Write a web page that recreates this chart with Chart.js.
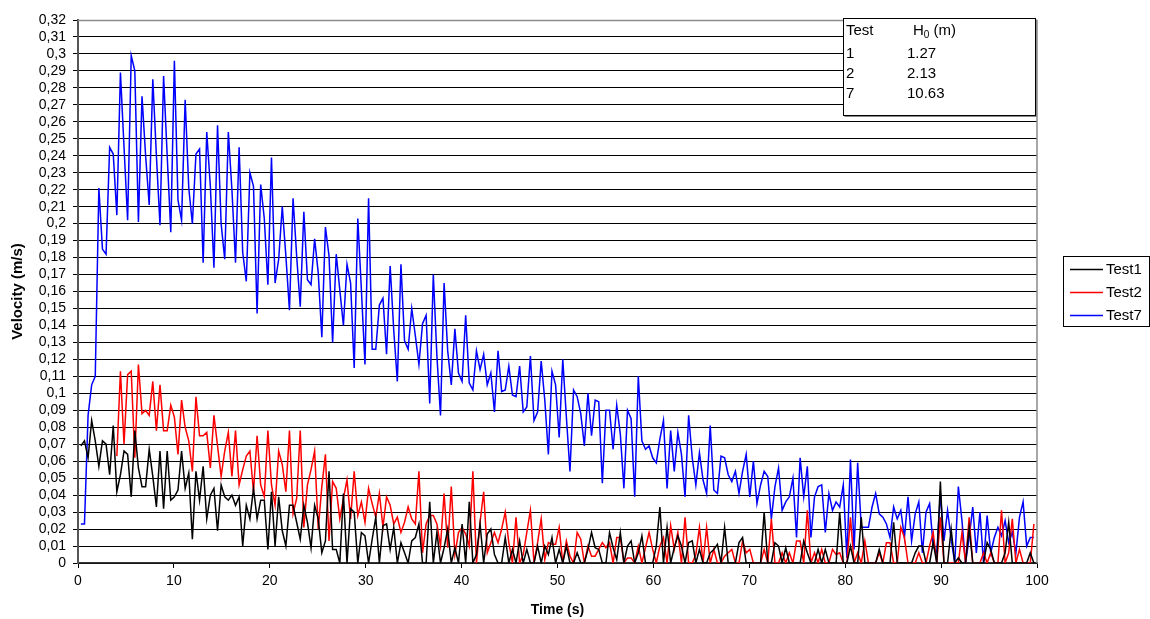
<!DOCTYPE html>
<html>
<head>
<meta charset="utf-8">
<script src="https://cdn.jsdelivr.net/npm/chart.js@4.4.1/dist/chart.umd.min.js"></script>
<style>
html,body{margin:0;padding:0;background:#fff;}
#wrap{width:1150px;height:619px;position:relative;}
</style>
</head>
<body>
<div id="wrap"><canvas id="c" width="1150" height="619"></canvas></div>
<script>
// ---- sampling (one sample about every 0.375 s) ----
const firstSampleTime = 0.3;
const sampleInterval = 0.375;

// ---- series values (m/s) ----
const test1 = [
0.069,0.072,0.062,0.084,0.072,0.057,0.072,0.070,0.052,0.081,0.042,0.052,0.066,0.064,0.039,0.078,0.056,0.045,0.045,0.067,0.051,0.033,0.066,0.032,0.066,0.037,0.039,0.043,0.066,0.044,0.053,0.014,0.054,0.037,
0.057,0.026,0.040,0.044,0.019,0.046,0.039,0.037,0.040,0.034,0.039,0.010,0.034,0.026,0.044,0.026,0.037,0.037,0.008,0.042,0.010,0.039,0.019,0.010,0.034,0.034,0.024,0.014,0.034,0.024,0.009,0.034,0.026,
0.006,0.013,0.054,0.008,0.008,0,0.041,0,0.032,0.030,0,0.018,0.016,0,0.014,0.027,0,0.022,0.023,0.008,0.021,0,0.012,0.006,0,0.013,0.015,0.023,0,0,0.036,0,0.018,0,
0.009,0.020,0,0.009,0,0.023,0,0.036,0,0.005,0.023,0,0.017,0.020,0.005,0,0,0.015,0,0.008,0,0.013,0,0.008,0,0,0.010,0,0.010,0.005,0.015,0,0.008,
0,0.010,0,0,0.006,0,0,0.008,0.018,0.009,0.008,0,0,0.018,0.009,0.002,0.018,0,0.010,0.013,0,0.006,0.016,0,0,0,0.010,0.033,0,0.021,0,0.009,0.016,
0.010,0,0.012,0.013,0,0.008,0,0,0.006,0.008,0.011,0,0.021,0,0,0,0.012,0.015,0,0,0,0,0,0.030,0,0,0.012,0.010,0,0.009,0,0,0,
0,0.013,0.006,0,0,0.008,0,0.008,0,0,0,0.030,0,0,0.010,0,0,0.027,0,0,0,0,0.008,0,0,0,0.024,0,0,0,0,0,0.006,0.010,
0.010,0,0,0.012,0,0.048,0,0,0.020,0,0.003,0,0,0.021,0,0,0,0,0.012,0.008,0,0,0,0.006,0.024,0,0,0,0,0,0.006,0
];
const test2 = [
null,null,null,null,null,null,null,null,null,null,
0.063,0.113,0.070,0.111,0.113,0.062,0.117,0.088,0.090,0.087,0.107,0.078,0.105,0.078,0.078,0.093,0.086,0.064,0.096,0.080,0.072,0.054,0.098,0.075,
0.075,0.077,0.056,0.087,0.069,0.051,0.066,0.077,0.051,0.078,0.046,0.055,0.063,0.066,0.042,0.075,0.046,0.039,0.078,0.046,0.034,0.066,0.058,0.042,0.078,0.029,0.038,0.078,0.021,0.046,0.055,0.066,0.020,
0.045,0.064,0.013,0.048,0.044,0.026,0.038,0.049,0.026,0.054,0.028,0.036,0.024,0.044,0.035,0.027,0.041,0.021,0.039,0.034,0.023,0.027,0.018,0.024,0.033,0.026,0.023,0.054,0.006,0.023,0.028,0.028,0.023,0.010,
0.041,0.009,0.045,0.005,0.018,0.021,0.017,0.010,0.054,0,0.024,0.042,0.006,0.012,0.018,0.012,0.020,0.030,0.012,0,0.027,0,0.005,0.018,0.031,0,0.012,0.026,0.002,0.012,0.011,0.011,0.021,
0,0.013,0.004,0,0.018,0.014,0,0.010,0.004,0.004,0.008,0.012,0.009,0.012,0,0.015,0.015,0,0.003,0.003,0,0.010,0,0.009,0.018,0.008,0,0.010,0.015,0,0.022,0.008,0.018,
0,0.027,0,0,0.005,0.021,0,0.021,0,0.008,0,0,0.004,0.006,0.008,0,0,0.013,0.006,0.008,0,0,0,0.008,0,0.026,0,0,0.006,0,0.006,0,0.013,
0.013,0,0.031,0,0.006,0,0.008,0,0,0.008,0.005,0.006,0,0,0.027,0,0.006,0,0.013,0,0,0,0.006,0,0.012,0.012,0,0,0.021,0.015,0,0,0,0.006,
0,0,0.010,0.018,0,0.027,0,0,0,0,0,0.018,0,0.027,0,0,0,0.006,0,0.006,0,0,0.031,0,0.006,0.026,0,0.008,0,0,0,0.023
];
const test7 = [
0.023,0.023,0.087,0.105,0.110,0.221,0.185,0.182,0.245,0.241,0.205,0.289,0.245,0.202,0.299,0.290,0.201,0.275,0.240,0.211,0.285,0.240,0.199,0.287,0.240,0.195,0.296,0.214,0.202,0.273,0.221,0.200,0.241,0.244,
0.177,0.254,0.222,0.174,0.258,0.200,0.179,0.254,0.220,0.177,0.245,0.183,0.166,0.230,0.222,0.147,0.223,0.203,0.164,0.239,0.165,0.179,0.210,0.181,0.149,0.215,0.181,0.151,0.207,0.167,0.164,0.191,0.171,
0.133,0.198,0.181,0.130,0.182,0.161,0.140,0.176,0.165,0.115,0.203,0.161,0.117,0.215,0.126,0.126,0.152,0.156,0.123,0.175,0.137,0.107,0.176,0.131,0.126,0.150,0.134,0.117,0.141,0.146,0.094,0.170,0.122,0.087,
0.165,0.125,0.105,0.138,0.112,0.107,0.146,0.106,0.102,0.125,0.114,0.123,0.105,0.112,0.089,0.125,0.101,0.102,0.116,0.099,0.098,0.116,0.089,0.092,0.122,0.084,0.089,0.119,0.096,0.064,0.113,0.105,0.074,
0.120,0.086,0.054,0.102,0.098,0.088,0.069,0.100,0.075,0.096,0.095,0.047,0.090,0.090,0.067,0.093,0.076,0.044,0.090,0.085,0.039,0.110,0.072,0.067,0.069,0.062,0.059,0.073,0.084,0.044,0.078,0.054,0.077,
0.064,0.039,0.087,0.062,0.046,0.065,0.049,0.041,0.081,0.043,0.041,0.063,0.062,0.052,0.048,0.054,0.041,0.054,0.064,0.039,0.060,0.035,0.046,0.054,0.051,0.026,0.045,0.056,0.031,0.036,0.039,0.050,0.015,
0.062,0.039,0.057,0.015,0.039,0.045,0.046,0.018,0.041,0.031,0.036,0.033,0.046,0.003,0.061,0.008,0.059,0.021,0.021,0.021,0.033,0.041,0.029,0.027,0.023,0.015,0.033,0.026,0.031,0.015,0.039,0.013,0.029,0.036,
0.006,0.030,0.035,0.010,0.006,0.041,0.013,0.031,0.014,0,0.045,0.025,0,0.015,0.033,0.006,0.030,0,0.028,0.006,0.015,0.021,0.016,0.025,0.012,0.018,0.006,0.027,0.036,0.010,0.015,0.015
];

const seriesNames = ['Test1', 'Test2', 'Test7'];
const seriesColors = ['#000000', '#ff0000', '#0000ff'];

// ---- axes ----
const xMin = 0, xMax = 100, xStep = 10;
const yMin = 0, yMax = 0.32, yStep = 0.01;
const xTitle = 'Time (s)';
const yTitle = 'Velocity (m/s)';

// ---- info table ----
const tableHead = ['Test', 'H', '0', ' (m)'];
const tableTests = ['1', '2', '7'];
const tableH0 = ['1.27', '2.13', '10.63'];

const FONT = '"Liberation Sans", Arial, sans-serif';

function toPoints(values) {
  return values.map((v, i) => ({ x: firstSampleTime + i * sampleInterval, y: v }));
}
const allSeries = [test1, test2, test7];

const boxesPlugin = {
  id: 'boxes',
  afterDraw(chart) {
    const ctx = chart.ctx;
    const a = chart.chartArea;
    ctx.save();
    // plot frame (top & right, grey)
    ctx.strokeStyle = '#8c8c8c';
    ctx.lineWidth = 1.5;
    ctx.beginPath();
    ctx.moveTo(a.left, a.top + 0.5);
    ctx.lineTo(a.right, a.top + 0.5);
    ctx.lineTo(a.right, a.bottom);
    ctx.stroke();

    // info table
    const tx = 843.5, ty = 18.5, tw = 192, th = 97;
    ctx.fillStyle = '#fff';
    ctx.fillRect(tx, ty, tw, th);
    ctx.strokeStyle = '#000';
    ctx.lineWidth = 1;
    ctx.strokeRect(tx, ty, tw, th);
    ctx.strokeStyle = '#888';
    ctx.beginPath();
    ctx.moveTo(tx + tw + 1, ty + 1); ctx.lineTo(tx + tw + 1, ty + th + 1); ctx.lineTo(tx + 1, ty + th + 1);
    ctx.stroke();
    ctx.fillStyle = '#000';
    ctx.textBaseline = 'middle';
    ctx.textAlign = 'left';
    ctx.font = '15px ' + FONT;
    ctx.fillText(tableHead[0], 846, 31);
    let hx = 913;
    ctx.fillText(tableHead[1], hx, 31);
    hx += ctx.measureText(tableHead[1]).width;
    ctx.font = '10px ' + FONT;
    ctx.fillText(tableHead[2], hx, 35);
    hx += ctx.measureText(tableHead[2]).width;
    ctx.font = '15px ' + FONT;
    ctx.fillText(tableHead[3], hx, 31);
    tableTests.forEach((t, i) => {
      const y = 53.5 + i * 20;
      ctx.fillText(t, 846, y);
      ctx.fillText(tableH0[i], 907, y);
    });

    // legend
    const lx = 1063.5, ly = 256.5, lw = 86, lh = 70;
    ctx.fillStyle = '#fff';
    ctx.fillRect(lx, ly, lw, lh);
    ctx.strokeStyle = '#000';
    ctx.lineWidth = 1;
    ctx.strokeRect(lx, ly, lw, lh);
    ctx.font = '15px ' + FONT;
    seriesNames.forEach((n, i) => {
      const y = 269.5 + i * 23;
      ctx.strokeStyle = seriesColors[i];
      ctx.lineWidth = 1.5;
      ctx.beginPath();
      ctx.moveTo(1070, y); ctx.lineTo(1103, y);
      ctx.stroke();
      ctx.fillStyle = '#000';
      ctx.fillText(n, 1106, y);
    });
    ctx.restore();
  }
};

Chart.defaults.color = '#000';
Chart.defaults.font.family = FONT;

new Chart(document.getElementById('c'), {
  type: 'line',
  data: {
    datasets: allSeries.map((vals, i) => ({
      label: seriesNames[i],
      data: toPoints(vals),
      borderColor: seriesColors[i],
      backgroundColor: seriesColors[i],
      borderWidth: 1.5,
      pointRadius: 0,
      tension: 0,
      fill: false,
      spanGaps: false
    }))
  },
  options: {
    responsive: false,
    animation: false,
    devicePixelRatio: 1,
    layout: { padding: { top: 20, right: 113, left: 0, bottom: 0 } },
    plugins: { legend: { display: false }, tooltip: { enabled: false } },
    scales: {
      x: {
        type: 'linear',
        min: xMin, max: xMax,
        ticks: { stepSize: xStep, font: { size: 14 }, padding: 5, maxRotation: 0 },
        grid: { drawOnChartArea: false, drawTicks: true, tickLength: 5, color: '#000' },
        border: { color: '#333', width: 1.5 },
        title: { display: true, text: xTitle, font: { size: 14, weight: 'bold' }, padding: { top: 0, bottom: 0 } },
        afterFit(s) { s.height = 56; }
      },
      y: {
        type: 'linear',
        min: yMin, max: yMax,
        ticks: {
          stepSize: yStep, autoSkip: false, font: { size: 14 }, padding: 7,
          callback: (v) => (Math.round(v * 100) / 100).toString().replace('.', ',')
        },
        grid: { color: '#000', lineWidth: 1, tickLength: 5 },
        border: { color: '#555', width: 2 },
        title: { display: true, text: yTitle, font: { size: 15, weight: 'bold' }, padding: { top: 9, bottom: 0 } },
        afterFit(s) { s.width = 78; }
      }
    }
  },
  plugins: [boxesPlugin]
});
</script>
</body>
</html>
